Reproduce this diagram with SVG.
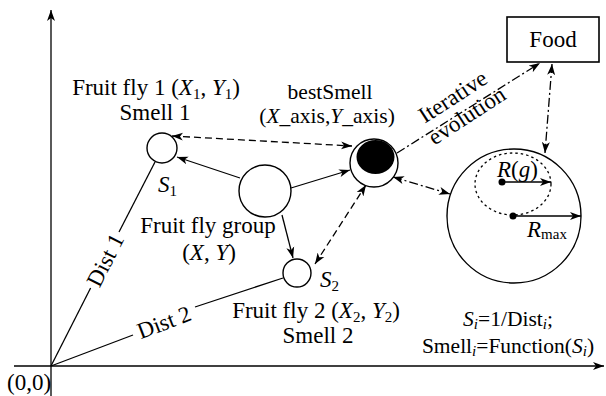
<svg xmlns="http://www.w3.org/2000/svg" width="606" height="396" viewBox="0 0 606 396" font-family="'Liberation Serif','Times New Roman','DejaVu Serif','Noto Serif',serif">
<style>
text{font-family:"Liberation Serif","Times New Roman","DejaVu Serif","Noto Serif",serif;font-size:23px;fill:#000}
.it{font-style:italic}
.sub{font-size:15px}
.sm{font-size:21.5px}
.node{fill:#fff;stroke:#000;stroke-width:1.4}
.ln{fill:none;stroke:#000;stroke-width:1.3}
.dash{stroke-dasharray:7 4}
.dd{stroke-dasharray:9 3 2 3}
.dot{stroke-dasharray:2.5 3}
</style>
<defs>
<marker id="ah" markerUnits="userSpaceOnUse" markerWidth="12" markerHeight="9" refX="11" refY="4" orient="auto-start-reverse" viewBox="0 0 12 8">
<path d="M0,0 L11,4 L0,8 L3,4 z" fill="#000"/>
</marker>
</defs>
<g id="axes">
<line x1="51" y1="396" x2="51" y2="10" class="ln" stroke-width="1.6" marker-end="url(#ah)"/>
<line x1="14" y1="366" x2="604" y2="366" class="ln" stroke-width="1.6" marker-end="url(#ah)"/>
<text x="7" y="390">(0,0)</text>
</g>
<g id="connectors">
<line x1="51" y1="366" x2="90.6" y2="288" class="ln"/>
<line x1="119" y1="232" x2="155" y2="162" class="ln"/>
<line x1="51" y1="366" x2="133" y2="335" class="ln"/>
<line x1="195" y1="307" x2="283" y2="278" class="ln"/>
<text transform="translate(105,260) rotate(-63.1)" text-anchor="middle" y="8">Dist 1</text>
<text transform="translate(164,322) rotate(-20.8)" text-anchor="middle" y="8">Dist 2</text>
<line x1="240" y1="178" x2="177" y2="157" class="ln" marker-end="url(#ah)"/>
<line x1="291" y1="188" x2="350" y2="170" class="ln" marker-end="url(#ah)"/>
<line x1="282" y1="215" x2="293" y2="258" class="ln" marker-end="url(#ah)"/>
<line x1="172" y1="136" x2="352" y2="146" class="ln dash" marker-start="url(#ah)" marker-end="url(#ah)"/>
<line x1="315" y1="264" x2="366" y2="185" class="ln dash" marker-start="url(#ah)" marker-end="url(#ah)"/>
<line x1="393" y1="177" x2="450" y2="194" class="ln dd" marker-start="url(#ah)" marker-end="url(#ah)"/>
<line x1="397" y1="153" x2="540" y2="63" class="ln dd" marker-end="url(#ah)"/>
<line x1="552" y1="64" x2="545" y2="153" class="ln dd" marker-start="url(#ah)" marker-end="url(#ah)"/>
<text transform="translate(457,103) rotate(-33)" text-anchor="middle">Iterative</text>
<text transform="translate(471,122) rotate(-33)" text-anchor="middle">evolution</text>
</g>
<g id="fly1">
<circle cx="162" cy="148" r="15" class="node"/>
<text x="156" y="95" text-anchor="middle">Fruit fly 1 (<tspan class="it">X</tspan><tspan class="sub" dy="4">1</tspan><tspan dy="-4">, </tspan><tspan class="it">Y</tspan><tspan class="sub" dy="4">1</tspan><tspan dy="-4">)</tspan></text>
<text x="155" y="120" text-anchor="middle">Smell 1</text>
<text x="158" y="192"><tspan class="it">S</tspan><tspan class="sub" dy="4">1</tspan></text>
</g>
<g id="group">
<circle cx="265" cy="191" r="26" class="node"/>
<text x="208" y="233" text-anchor="middle">Fruit fly group</text>
<text x="209" y="260" text-anchor="middle">(<tspan class="it">X</tspan>, <tspan class="it">Y</tspan>)</text>
</g>
<g id="fly2">
<circle cx="297" cy="273" r="14" class="node"/>
<text x="320" y="287"><tspan class="it">S</tspan><tspan class="sub" dy="4">2</tspan></text>
<text x="316" y="318" text-anchor="middle">Fruit fly 2 (<tspan class="it">X</tspan><tspan class="sub" dy="4">2</tspan><tspan dy="-4">, </tspan><tspan class="it">Y</tspan><tspan class="sub" dy="4">2</tspan><tspan dy="-4">)</tspan></text>
<text x="318" y="343" text-anchor="middle">Smell 2</text>
</g>
<g id="best">
<circle cx="374" cy="163" r="24" class="node"/>
<ellipse cx="375.5" cy="157" rx="19" ry="17" fill="#000"/>
<text x="330" y="99" text-anchor="middle" class="sm">bestSmell</text>
<text x="327" y="123" text-anchor="middle" class="sm">(<tspan class="it">X</tspan>_axis,<tspan class="it">Y</tspan>_axis)</text>
</g>
<g id="food">
<rect x="507" y="17" width="92" height="45" fill="#fff" stroke="#000" stroke-width="1.6"/>
<text x="553" y="47" text-anchor="middle">Food</text>
</g>
<g id="range">
<circle cx="514" cy="216" r="67" class="node"/>
<ellipse cx="513" cy="184" rx="38" ry="31" class="ln dot" stroke-width="1.8"/>
<circle cx="502" cy="182" r="3.5" fill="#000"/>
<circle cx="513" cy="216" r="3.5" fill="#000"/>
<line x1="502" y1="182" x2="551" y2="182" class="ln" marker-end="url(#ah)"/>
<line x1="513" y1="216" x2="581" y2="216" class="ln" marker-end="url(#ah)"/>
<text x="497" y="177"><tspan class="it">R</tspan>(<tspan class="it">g</tspan>)</text>
<text x="527" y="237"><tspan class="it">R</tspan><tspan class="sub" dy="2">max</tspan></text>
</g>
<g id="formula">
<text x="508" y="326" text-anchor="middle" class="sm"><tspan class="it">S</tspan><tspan class="sub it" dy="3">i</tspan><tspan dy="-3">=1/Dist</tspan><tspan class="sub it" dy="3">i</tspan><tspan dy="-3">;</tspan></text>
<text x="508" y="353" text-anchor="middle" class="sm">Smell<tspan class="sub it" dy="3">i</tspan><tspan dy="-3">=Function(</tspan><tspan class="it">S</tspan><tspan class="sub it" dy="3">i</tspan><tspan dy="-3">)</tspan></text>
</g>
</svg>
